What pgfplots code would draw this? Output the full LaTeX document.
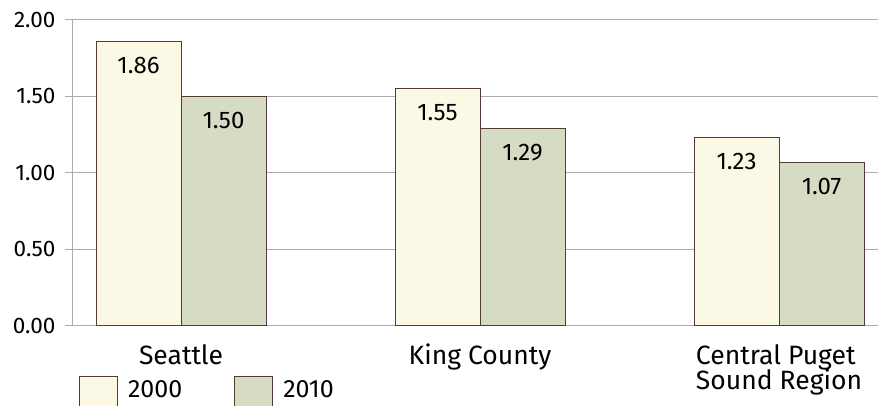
\documentclass[border=0pt]{standalone}
\usepackage{fontspec}
\setmainfont{Fira Sans}
\usepackage{pgfplots}
\pgfplotsset{compat=1.18}

\definecolor{cream}{HTML}{FBF9E6}
\definecolor{sage}{HTML}{D6DCC4}
\definecolor{edge}{HTML}{563A3A}
\definecolor{gridc}{HTML}{ABABAB}

\begin{document}
\begin{tikzpicture}
\useasboundingbox (0pt,0pt) rectangle (889pt,406pt);
\begin{axis}[
    at={(73pt,80pt)}, anchor=south west,
    scale only axis,
    width=805pt, height=306pt,
    ybar=0pt, bar width=85pt,
    xmin=-0.3612, xmax=2.331,
    ymin=0, ymax=2,
    xtick={0,1,2},
    xticklabels={Seattle, King County,
        {\vtop{\lineskiplimit=-100pt\hbox{Central Puget}\hbox{Sound Region}}}},
    ytick={0,0.5,1,1.5,2},
    axis x line*=bottom, axis y line*=left,
    axis line style={gridc, line width=1pt},
    ymajorgrids, grid style={gridc, line width=1pt},
    tick align=outside, major tick length=8pt,
    xtick style={draw=none},
    ytick style={gridc, line width=1pt},
    /pgf/number format/assume math mode=true,
    yticklabel style={font=\fontsize{22.5}{27}\selectfont, xshift=-6pt,
        /pgf/number format/.cd, fixed, fixed zerofill, precision=2},
    xticklabel style={font=\fontsize{26.5}{24.5}\selectfont,
        anchor=base, inner sep=0pt, yshift=-31pt},
    nodes near coords={\pgfmathprintnumber[fixed,fixed zerofill,precision=2]{\pgfplotspointmeta}},
    every node near coord/.append style={font=\fontsize{24}{29}\selectfont,
        anchor=base, yshift=-32pt, text=black},
    legend columns=2,
    legend style={at={(0.0075,-0.1634)}, anchor=north west, draw=none,
        fill=none, inner sep=0pt, outer sep=0pt,
        font=\fontsize{25}{30}\selectfont,
        cells={anchor=base west},
        nodes={inner sep=0pt, text depth=0pt},
        /tikz/every even column/.append style={column sep=52pt}},
    legend image code/.code={%
        \draw[#1] (0pt,-14pt) rectangle (38pt,21pt);
        \path (48pt,0pt);},
]
\addplot[fill=cream, draw=edge, line width=1pt]
    coordinates {(0,1.86) (1,1.55) (2,1.23)};
\addplot[fill=sage, draw=edge, line width=1pt]
    coordinates {(0,1.50) (1,1.29) (2,1.07)};
\legend{2000,2010}
\end{axis}
\end{tikzpicture}
\end{document}
